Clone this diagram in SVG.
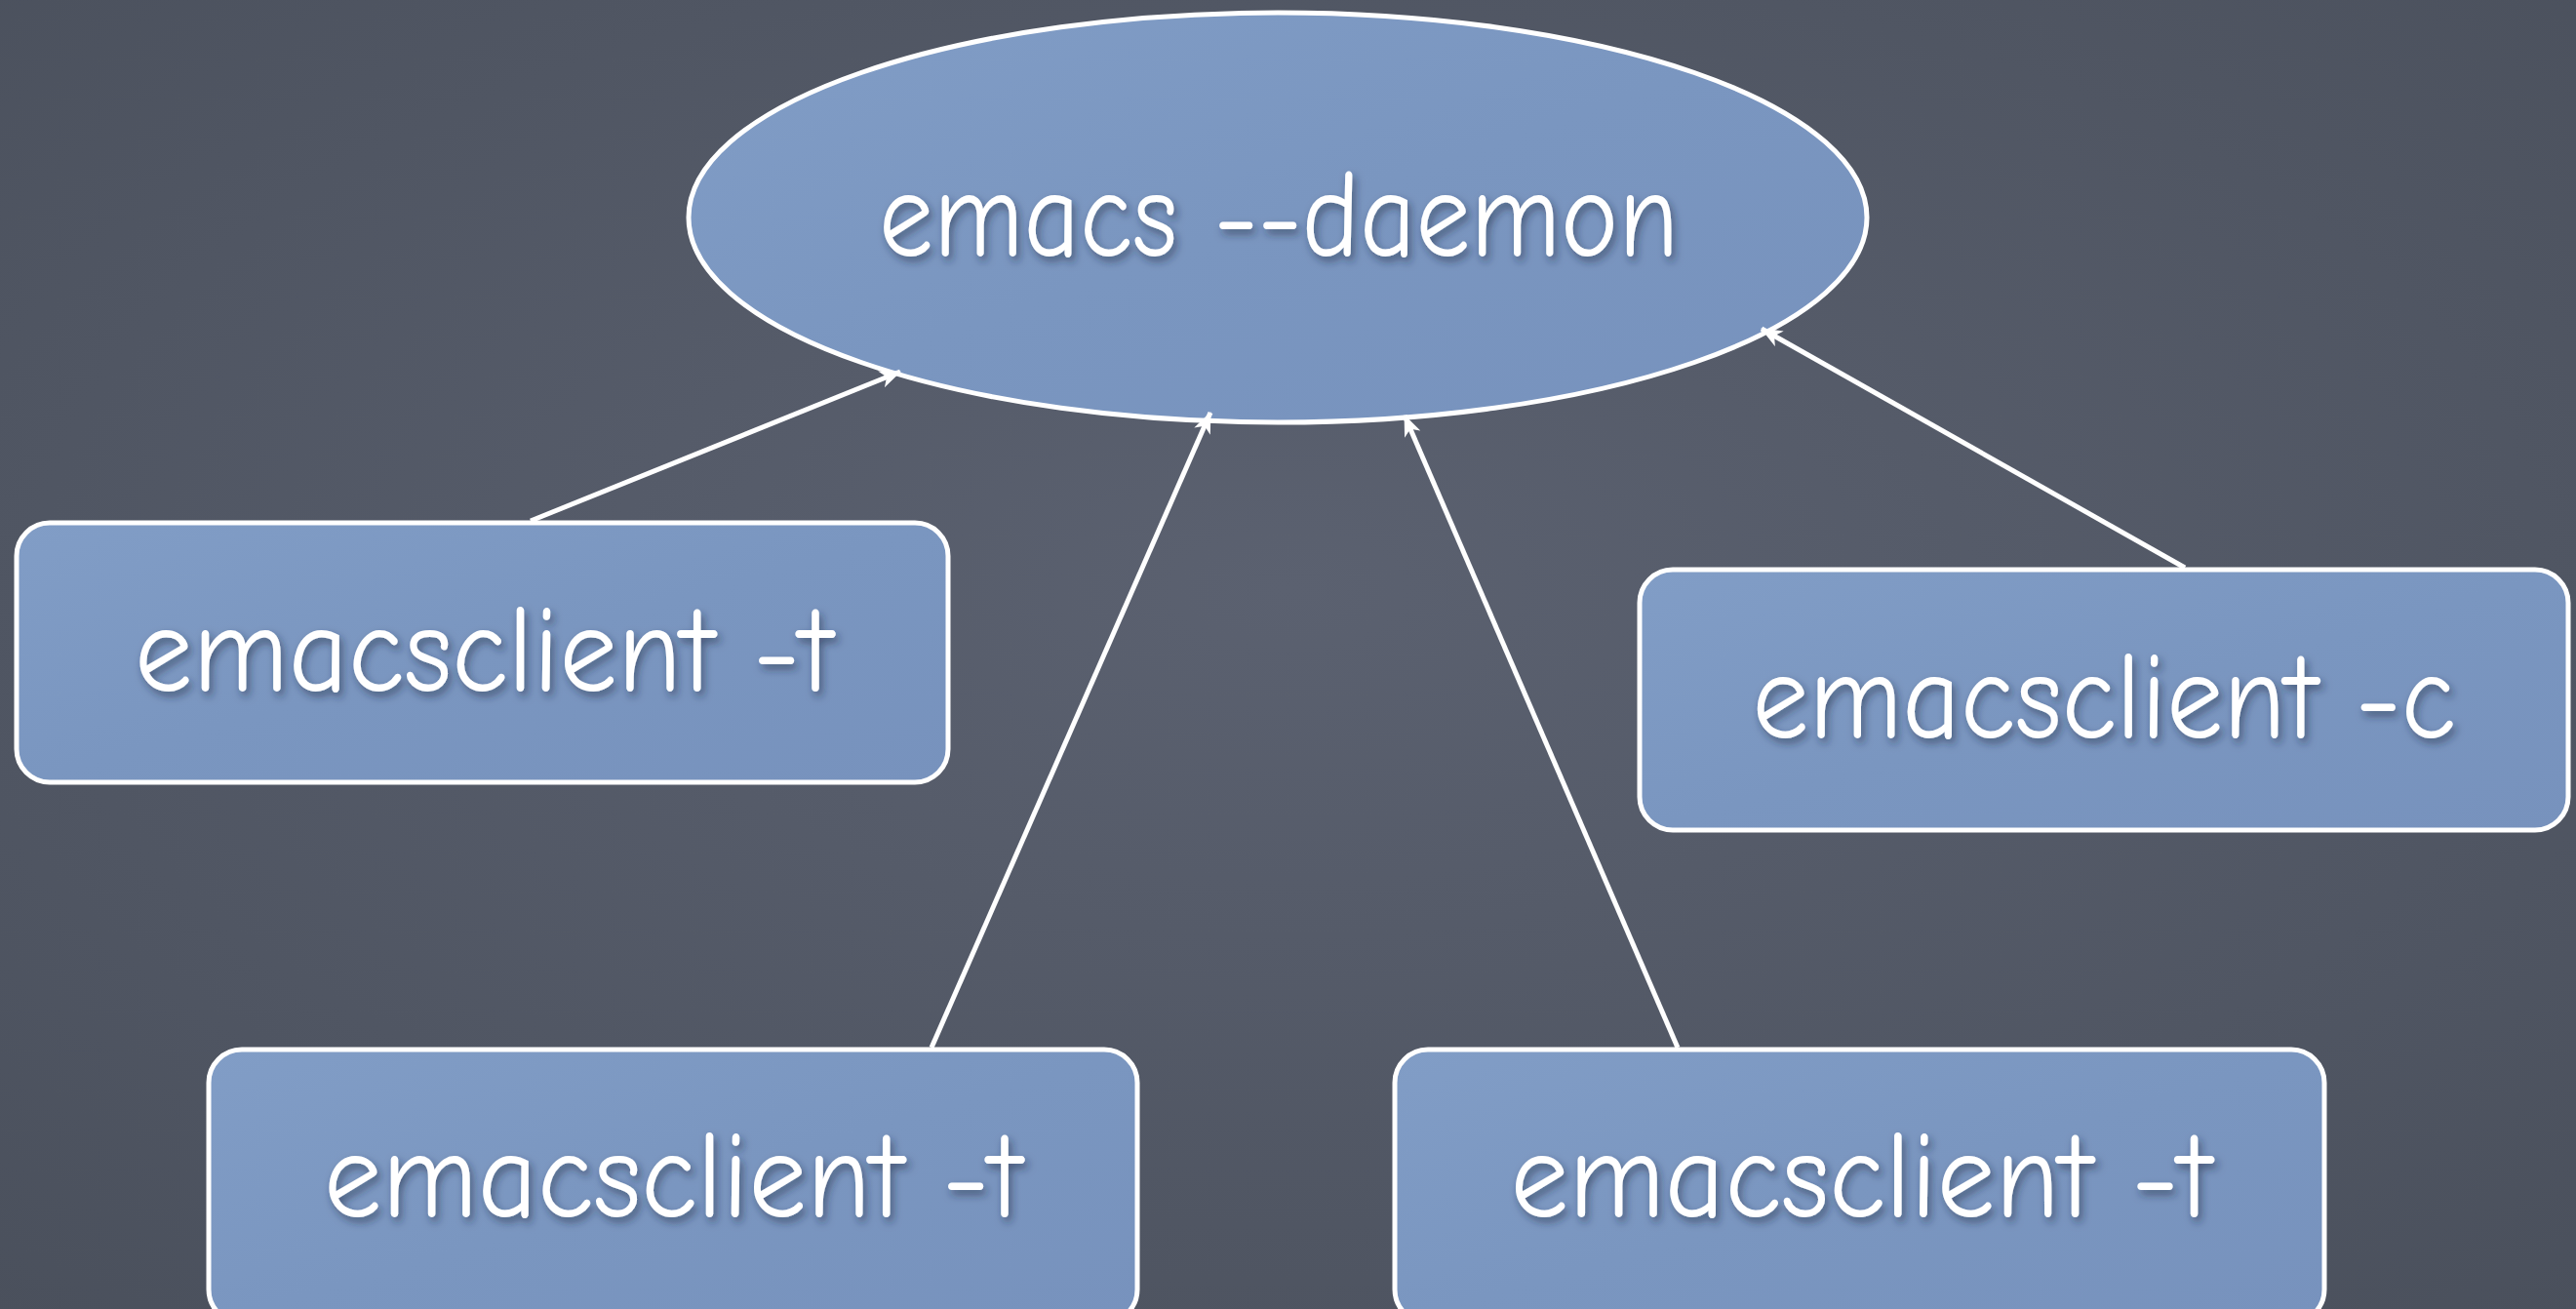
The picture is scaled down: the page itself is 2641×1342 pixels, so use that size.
<svg xmlns="http://www.w3.org/2000/svg" width="2641" height="1342" viewBox="0 0 2641 1342">
<defs>
<radialGradient id="bg" cx="50%" cy="45%" r="75%">
<stop offset="0" stop-color="#5b6170"/>
<stop offset="1" stop-color="#4a505c"/>
</radialGradient>
<linearGradient id="fill" x1="0" y1="0" x2="1" y2="1">
<stop offset="0" stop-color="#819dc6"/>
<stop offset="0.5" stop-color="#7a96c0"/>
<stop offset="1" stop-color="#7792bd"/>
</linearGradient>
<filter id="ts" x="-5%" y="-20%" width="110%" height="150%">
<feDropShadow dx="3" dy="5" stdDeviation="4" flood-color="#1e2a40" flood-opacity="0.55"/>
</filter>
<marker id="arr" viewBox="0 0 22 18" refX="21" refY="9" markerWidth="22" markerHeight="18" markerUnits="userSpaceOnUse" orient="auto">
<path d="M0,0 L22,9 L0,18 L6,9 Z" fill="#ffffff"/>
</marker>
</defs>
<style>
.node{fill:url(#fill);stroke:#ffffff;stroke-width:5}
.lbl{font-family:"Comic Neue","Lato","Noto Sans",sans-serif;font-weight:400;font-size:126px;fill:#ffffff;text-anchor:middle;filter:url(#ts)}
.conn{stroke:#ffffff;stroke-width:5;fill:none;marker-end:url(#arr)}
</style>
<rect width="2641" height="1342" fill="url(#bg)"/>
<g id="daemon">
<ellipse class="node" cx="1310" cy="223" rx="604" ry="210"/>
<text class="lbl" x="1311" y="262" textLength="820" lengthAdjust="spacingAndGlyphs">emacs --daemon</text>
</g>
<g id="client-t1">
<rect class="node" x="17" y="536" width="955" height="266" rx="34"/>
<text class="lbl" x="496" y="708" textLength="716" lengthAdjust="spacingAndGlyphs">emacsclient -t</text>
</g>
<g id="client-c">
<rect class="node" x="1681" y="584" width="952" height="267" rx="34"/>
<text class="lbl" x="2157" y="756" textLength="721" lengthAdjust="spacingAndGlyphs">emacsclient -c</text>
</g>
<g id="client-t2">
<rect class="node" x="214" y="1076" width="952" height="280" rx="34"/>
<text class="lbl" x="690" y="1247" textLength="716" lengthAdjust="spacingAndGlyphs">emacsclient -t</text>
</g>
<g id="client-t3">
<rect class="node" x="1430" y="1076" width="953" height="280" rx="34"/>
<text class="lbl" x="1908" y="1247" textLength="719" lengthAdjust="spacingAndGlyphs">emacsclient -t</text>
</g>
<g id="connectors">
<line class="conn" x1="544" y1="534" x2="923" y2="381"/>
<line class="conn" x1="955" y1="1074" x2="1241" y2="423"/>
<line class="conn" x1="1720" y1="1074" x2="1440" y2="426"/>
<line class="conn" x1="2240" y1="582" x2="1806" y2="337"/>
</g>
</svg>
